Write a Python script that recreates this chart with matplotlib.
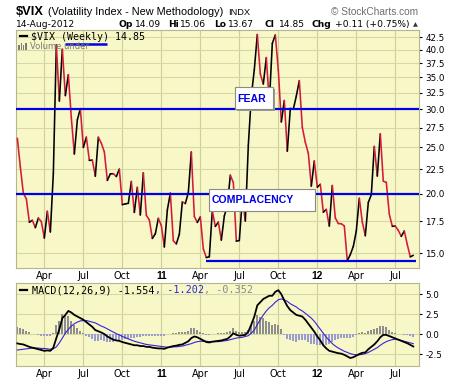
import numpy as np
import pandas as pd
import matplotlib
matplotlib.use('Agg')
import matplotlib.pyplot as plt
from matplotlib.collections import LineCollection
from matplotlib.patches import Rectangle
from matplotlib.lines import Line2D

# ---------------- data ----------------
weeks = pd.date_range('2010-02-01', '2012-08-13', freq='W-MON')  # weekly bars

vix = [26.11, 22.73, 20.02, 19.50, 17.42, 17.58, 16.97, 17.77, 17.47, 16.14,
       18.36, 16.62, 22.05, 40.95, 31.24, 40.10, 32.07, 35.48, 28.79, 24.20,
       28.53, 30.12, 24.98, 26.25, 23.47, 23.50, 21.74, 26.24, 25.49, 24.45,
       21.31, 21.99, 22.01, 21.71, 22.50, 18.96, 19.03, 19.08, 21.20, 18.26,
       20.61, 18.04, 22.10, 18.01, 17.61, 16.11, 16.47, 17.75,
       17.14, 15.46, 18.47, 20.04, 15.93, 15.69, 16.43, 19.22, 19.06, 20.10,
       24.44, 17.91, 17.40, 17.87, 15.32, 14.69, 14.75, 18.40, 17.07, 17.43,
       15.98, 17.95, 18.86, 21.85, 21.10, 15.90, 15.95, 19.53, 17.52, 25.25,
       32.00, 36.36, 43.05, 35.59, 33.92, 38.52, 30.98, 41.25, 42.96, 36.27,
       28.24, 31.32, 24.53, 30.16, 30.04, 32.00, 34.47, 27.52, 25.60, 24.29,
       20.73, 23.40,
       20.63, 20.91, 18.28, 18.53, 17.10, 20.79, 17.78, 17.31, 17.29, 17.11,
       14.47, 14.90, 15.50, 16.70, 19.55, 17.44, 16.32, 19.16, 19.89, 25.10,
       21.76, 26.66, 21.23, 21.11, 18.11, 17.08, 17.10, 16.74, 16.27, 16.70,
       15.64, 14.74, 14.85]

macd = [-1.17, -1.25, -1.30, -1.45, -1.60, -1.70, -1.80, -1.90, -2.00, -2.10,
        -2.05, -2.10, -1.70, -0.50, 0.60, 2.00, 2.40, 2.90, 2.70, 2.40,
        2.20, 2.00, 1.80, 1.50, 1.20, 0.90, 0.50, 0.35, 0.20, 0.00,
        -0.30, -0.50, -0.70, -0.80, -0.85, -1.00, -1.10, -1.20, -1.30, -1.40,
        -1.40, -1.50, -1.50, -1.60, -1.60, -1.70, -1.75, -1.80, -1.80, -1.85,
        -1.70, -1.60, -1.50, -1.45, -1.35, -1.30, -1.10, -0.90, -0.50, -0.30,
        -0.40, -0.60, -0.80, -1.00, -1.05, -0.95, -0.90, -0.85, -0.80, -0.70,
        -0.60, -0.30, 0.10, -0.10, -0.20, -0.15, -0.10, 0.30, 1.20, 2.20,
        3.60, 4.00, 4.40, 4.60, 4.80, 4.80, 5.30, 5.50, 5.00, 4.20,
        3.50, 3.00, 2.70, 2.40, 2.30, 2.20, 1.80, 1.30, 0.80, 0.30,
        -0.30, -0.80, -1.40, -1.80, -2.10, -2.20, -2.30, -2.40, -2.45, -2.60,
        -2.80, -3.00, -2.90, -2.70, -2.50, -2.35, -2.30, -1.90, -1.60, -1.30,
        -0.90, -0.40, -0.10, -0.10, -0.25, -0.40, -0.55, -0.70, -0.85, -1.00,
        -1.15, -1.35, -1.554]

signal = [-2.00, -1.95, -1.90, -1.85, -1.80, -1.75, -1.75, -1.75, -1.80, -1.80,
          -1.85, -1.90, -1.85, -1.60, -1.10, -0.50, 0.10, 0.60, 1.00, 1.30,
          1.50, 1.65, 1.70, 1.70, 1.60, 1.50, 1.40, 1.20, 1.00, 0.85,
          0.65, 0.45, 0.25, 0.05, -0.10, -0.30, -0.45, -0.60, -0.75, -0.90,
          -1.00, -1.10, -1.20, -1.30, -1.35, -1.40, -1.45, -1.50, -1.55, -1.60,
          -1.65, -1.65, -1.60, -1.60, -1.55, -1.50, -1.40, -1.30, -1.20, -1.05,
          -0.95, -0.90, -0.90, -0.90, -0.95, -0.95, -0.95, -0.95, -0.90, -0.85,
          -0.80, -0.70, -0.60, -0.50, -0.45, -0.40, -0.30, -0.20, 0.10, 0.50,
          1.20, 1.80, 2.40, 2.90, 3.30, 3.60, 4.00, 4.30, 4.40, 4.30,
          4.10, 3.80, 3.60, 3.40, 3.10, 2.90, 2.60, 2.30, 2.00, 1.60,
          1.10, 0.60, 0.10, -0.40, -0.80, -1.20, -1.50, -1.75, -1.95, -2.15,
          -2.30, -2.45, -2.55, -2.60, -2.60, -2.55, -2.45, -2.30, -2.10, -1.90,
          -1.70, -1.40, -1.15, -0.95, -0.80, -0.70, -0.65, -0.70, -0.80, -0.90,
          -1.00, -1.10, -1.202]

tick_months = [(2010, 4), (2010, 7), (2010, 10), (2011, 1), (2011, 4), (2011, 7),
               (2011, 10), (2012, 1), (2012, 4), (2012, 7)]
tick_labels = ['Apr', 'Jul', 'Oct', '11', 'Apr', 'Jul', 'Oct', '12', 'Apr', 'Jul']

price_ticks = [15.0, 17.5, 20.0, 22.5, 25.0, 27.5, 30.0, 32.5, 35.0, 37.5, 40.0, 42.5]
macd_ticks = [-2.5, 0.0, 2.5, 5.0]

fear_level = 30.0
complacency_level = 20.0
support_level = 14.45
support_start = 63

# ---------------- figure ----------------
W, H = 460, 383
fig = plt.figure(figsize=(W / 100, H / 100), dpi=100)
fig.patch.set_facecolor('white')

def fx(px):
    return px / W

def fy(py):
    return 1 - py / H

BG = '#f8f7c8'
GRID = '#d8d8a6'
VGRID = '#cfcf98'
SPINE = '#b5b58e'
RED = '#d6193a'
BLUE = '#0000e6'

x = np.arange(len(vix))
xpos = [int(np.where((weeks.year == y) & (weeks.month == m))[0][0]) for y, m in tick_months]

ax = fig.add_axes([fx(16), fy(268), fx(419) - fx(16), fy(30) - fy(268)])
ax2 = fig.add_axes([fx(16), fy(366), fx(419) - fx(16), fy(283) - fy(366)])

for a in (ax, ax2):
    a.set_facecolor(BG)
    a.set_xlim(-0.45, 133.9)
    a.set_xticks(xpos)
    a.set_xticklabels(tick_labels)
    a.tick_params(axis='x', length=0, pad=2, labelsize=7, colors='black')
    a.yaxis.tick_right()
    a.tick_params(axis='y', length=2, pad=2.5, labelsize=6.3, colors='black', which='major')
    for s in a.spines.values():
        s.set_color(SPINE)
        s.set_linewidth(0.8)
    a.spines['bottom'].set_linestyle((0, (1, 1)))
    for v in xpos:
        a.axvline(v, color=VGRID, lw=0.8, zorder=0.5)
    for lab in a.get_xticklabels():
        if lab.get_text() in ('11', '12'):
            lab.set_fontweight('bold')
            lab.set_fontfamily('Liberation Sans')
            lab.set_fontsize(7.4)

# ---- price panel ----
ax.set_yscale('log')
ax.set_ylim(13.97, 44.0)
ax.set_yticks(price_ticks)
ax.set_yticklabels(['%.1f' % t for t in price_ticks])
ax.yaxis.set_minor_locator(matplotlib.ticker.NullLocator())
for t in price_ticks:
    ax.axhline(t, color=GRID, lw=0.8, zorder=0.5)

pts = np.column_stack([x, vix])
segs = np.stack([pts[:-1], pts[1:]], axis=1)
cols = ['black' if vix[i + 1] >= vix[i] else RED for i in range(len(vix) - 1)]
lc = LineCollection(segs, colors=cols, linewidths=1.15, zorder=3, capstyle='round',
                    joinstyle='round')
ax.add_collection(lc)

ax.axhline(fear_level, color=BLUE, lw=1.6, zorder=4)
ax.axhline(complacency_level, color=BLUE, lw=1.6, zorder=4)
ax.plot([support_start, len(vix) - 0.1], [support_level, support_level], color=BLUE,
        lw=1.6, zorder=4, solid_capstyle='butt')

# annotation boxes (FEAR / COMPLACENCY)
def label_box(x0, y0, x1, y1, text, tx):
    fig.add_artist(Rectangle((fx(x0) + fx(1.5), fy(y1) - 1.5 / H), fx(x1 - x0), (y1 - y0) / H,
                             transform=fig.transFigure, facecolor='#9a9a9a',
                             edgecolor='none', zorder=5))
    fig.add_artist(Rectangle((fx(x0), fy(y1)), fx(x1 - x0), (y1 - y0) / H,
                             transform=fig.transFigure, facecolor='white',
                             edgecolor='#8a8a8a', lw=0.8, zorder=6))
    fig.text(fx(tx), fy((y0 + y1) / 2 + 0.5), text, color=BLUE, fontsize=7.6,
             fontweight='bold', family='Liberation Sans', ha='left', va='center', zorder=7)

label_box(235, 87.3, 273.3, 109.3, 'FEAR', 237.5)
label_box(209.3, 188.5, 315, 210.7, 'COMPLACENCY', 212)

# legend area
fig.add_artist(Line2D([fx(20), fx(26.7)], [fy(35.7), fy(35.7)], color='black', lw=1.6,
                      transform=fig.transFigure))
fig.text(fx(31.5), fy(36.7), '$VIX (Weekly) 14.85', family='DejaVu Sans Mono',
         fontsize=7.2, va='center', ha='left', color='black')
for bx, bh in [(18.3, 5), (20.6, 7), (22.9, 5), (25.2, 6.5)]:
    fig.add_artist(Rectangle((fx(bx), fy(50)), fx(1.6), bh / H, transform=fig.transFigure,
                             facecolor='#7a7a7a', edgecolor='none'))
fig.text(fx(29.5), fy(46.5), 'Volume under', fontsize=6.0, color='#7a7a7a',
         va='center', ha='left')
fig.add_artist(Line2D([fx(65), fx(106.7)], [fy(43.5), fy(43.5)], color=BLUE, lw=1.8,
                      transform=fig.transFigure, solid_capstyle='butt'))

# ---- MACD panel ----
ax2.set_ylim(-4.0, 6.4)
ax2.set_yticks(macd_ticks)
ax2.set_yticklabels(['%.1f' % t for t in macd_ticks])
for t in macd_ticks:
    ax2.axhline(t, color=GRID, lw=0.8, zorder=0.5)
hist = np.array(macd) - np.array(signal)
ax2.bar(x, hist, width=0.68, color=['#8e8e8e' if h >= 0 else '#9b9bd2' for h in hist],
        zorder=2, linewidth=0)
ax2.plot(x, signal, color='#3a22d8', lw=0.8, zorder=3)
ax2.plot(x, macd, color='black', lw=1.3, zorder=4)

fig.add_artist(Line2D([fx(20), fx(27.3)], [fy(290), fy(290)], color='black', lw=1.6,
                      transform=fig.transFigure))
renderer = fig.canvas.get_renderer()
cur_x = 32.3
for txt, col in [('MACD(12,26,9) -1.554', 'black'), (', -1.202', '#2a2ad0'),
                 (', -0.352', '#8a8a8a')]:
    t = fig.text(fx(cur_x), fy(290.5), txt, family='DejaVu Sans Mono', fontsize=7.3,
                 va='center', ha='left', color=col)
    bb = t.get_window_extent(renderer=renderer)
    cur_x += bb.width

# ---- header ----
fig.text(fx(16), fy(15), '$VIX', family='Liberation Sans', fontweight='bold',
         fontsize=9.3, va='baseline', ha='left')
fig.text(fx(48.3), fy(15), '(Volatility Index - New Methodology)', family='Liberation Sans',
         fontsize=7.8, va='baseline', ha='left')
fig.text(fx(227.7), fy(15), 'INDX', family='Liberation Sans', fontsize=6.7,
         va='baseline', ha='left')
fig.text(fx(418.5), fy(15), '\u00a9 StockCharts.com', family='Liberation Sans', fontsize=7.3,
         va='baseline', ha='right', color='#6e6e6e')

fig.text(fx(16), fy(26.7), '14-Aug-2012', fontsize=6.6, va='baseline', ha='left')
header_items = [(118.3, 'Op', True), (135, '14.09', False), (168.3, 'Hi', True),
                (180, '15.06', False), (214.3, 'Lo', True), (228.3, '13.67', False),
                (264.3, 'Cl', True), (279.3, '14.85', False), (311.7, 'Chg', True),
                (335, '+0.11 (+0.75%)', False)]
for px, txt, bold in header_items:
    fig.text(fx(px), fy(26.7), txt, fontsize=6.6, va='baseline', ha='left',
             fontweight='bold' if bold else 'normal')
fig.text(fx(412.5), fy(26.2), '\u25b2', fontsize=4.6, va='baseline', ha='left', color='#333333')

fig.savefig('out.png', dpi=100, facecolor='white')
